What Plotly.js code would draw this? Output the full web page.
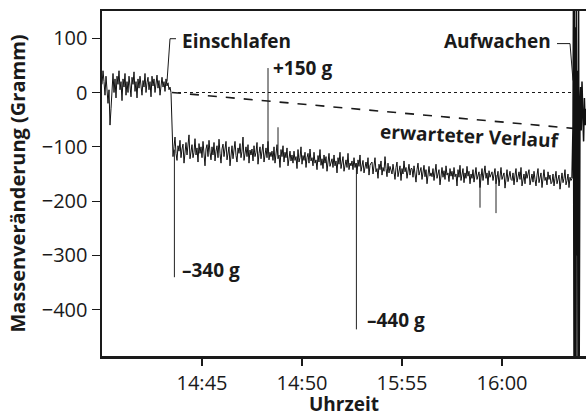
<!DOCTYPE html>
<html>
<head>
<meta charset="utf-8">
<script src="https://cdn.plot.ly/plotly-3.0.1.min.js"></script>
<style>html,body{margin:0;padding:0;background:#fff;}#chart{width:586px;height:417px;}</style>
</head>
<body>
<div id="chart"></div>
<script>
// Time axis in minutes from start of recording (sampled every 0.05 min)
const sampleStep = 0.05;
const tickPositions = [5, 10, 15, 20];
const tickLabels = ['14:45', '14:50', '15:55', '16:00'];
const yTicks = [100, 0, -100, -200, -300, -400];
const yTickLabels = ['100', '0', '\u2212100', '\u2212200', '\u2212300', '\u2212400'];

// Awake phase (x = 0 … 3.45)
const awakeValues = [
  15, 40, 20, -5, 30, 10, -20, 5, -60, -30, 10, 35, 0, 25, -10, 30, 15, 40, 5, 20,
  -15, 25, 10, 35, -5, 20, 0, 30, 12, -8, 28, 15, 38, 2, 20, -10, 25, 8, 30, 15,
  -5, 22, 10, 35, 0, 18, 28, 5, 20, -8, 30, 12, 25, 0, 18, 32, 8, 22, -5, 15,
  28, 10, 20, 2, 25, 12, 18, 5, 10, 0];
// Sleep phase (x = 3.5 … 23.5)
const sleepValues = [
  -90, -118, -100, -82, -112, -125, -98, -108, -88, -120, -104, -95, -130, -110, -92, -115, -100, -78, -122, -106,
  -96, -120, -110, -85, -115, -102, -128, -94, -112, -100, -120, -90, -108, -135, -104, -96, -118, -88, -110, -124,
  -100, -115, -92, -126, -108, -98, -120, -86, -112, -130, -104, -95, -118, -106, -90, -124, -112, -100, -135, -108,
  -98, -122, -105, -90, -116, -128, -102, -112, -94, -120, -108, -82, -125, -110, -100, -118, -96, -130, -106, -115,
  -104, -126, -98, -118, -110, -92, -132, -112, -100, -122, -108, -95, -128, -115, -102, -120, -90, -124, -110, -118,
  -108, -125, -100, -130, -112, -96, -122, -115, -138, -105, -118, -98, -128, -110, -120, -102, -135, -115, -108, -126,
  -115, -130, -108, -125, -118, -140, -105, -128, -120, -100, -132, -116, -125, -110, -138, -120, -112, -130, -104, -126,
  -120, -135, -110, -130, -124, -142, -116, -128, -105, -134, -122, -140, -115, -130, -118, -145, -125, -112, -136, -128,
  -122, -138, -115, -135, -126, -148, -120, -132, -110, -140, -128, -118, -145, -130, -124, -138, -112, -142, -130, -135,
  -126, -142, -120, -138, -130, -150, -124, -136, -115, -145, -132, -125, -148, -135, -128, -140, -120, -152, -134, -130,
  -128, -150, -135, -120, -146, -140, -158, -132, -142, -126, -152, -138, -145, -118, -140, -155, -130, -148, -136, -142,
  -150, -132, -145, -160, -138, -128, -155, -142, -135, -162, -140, -150, -126, -146, -138, -158, -144, -132, -152, -140,
  -140, -156, -135, -150, -165, -142, -130, -152, -146, -138, -160, -148, -134, -155, -142, -168, -145, -136, -154, -148,
  -155, -140, -162, -146, -132, -158, -150, -142, -170, -148, -138, -156, -144, -160, -135, -152, -148, -164, -140, -154,
  -145, -160, -138, -155, -150, -172, -142, -156, -134, -162, -152, -140, -166, -148, -158, -136, -154, -145, -168, -150,
  -158, -142, -165, -150, -138, -160, -154, -146, -175, -150, -140, -162, -152, -135, -158, -148, -170, -144, -156, -150,
  -146, -162, -150, -140, -168, -155, -145, -172, -152, -138, -160, -154, -148, -176, -150, -142, -164, -156, -145, -160,
  -162, -148, -170, -152, -140, -165, -156, -146, -160, -138, -172, -155, -150, -168, -145, -158, -152, -142, -170, -156,
  -150, -165, -145, -160, -172, -152, -140, -166, -158, -148, -175, -155, -142, -162, -156, -170, -146, -160, -152, -168,
  -165, -150, -172, -158, -145, -168, -160, -152, -178, -155, -148, -166, -158, -142, -170, -162, -150, -175, -156, -162,
  -158];

// Single events (spikes)
const eventTime = [3.62, 8.3, 8.8, 12.72, 18.9, 19.7];
const eventBase = [-105, -112, -115, -130, -150, -152];
const eventPeak = [-340, 45, -64, -436, -212, -222];

// Waking up: strong movement at the end
const wakeTime = [23.5, 23.55, 23.57, 23.6, 23.62, 23.65, 23.67, 23.7, 23.72, 23.75, 23.77, 23.8,
  23.83, 23.86, 23.9, 23.93, 23.96, 24.0, 24.04, 24.08, 24.12, 24.16, 24.2];
const wakeValues = [-158, -60, 160, -500, 160, -500, 120, -500, 160, -300, 40, -500,
  160, -500, -20, 10, -70, 20, -40, -90, -10, -60, -30];

// Reference lines
const zeroTime = [3.5, 24.3];
const zeroMass = [0, 0];
const expectedTime = [3.5, 23.55];
const expectedMass = [0, -66];

// Annotation leader lines
const sleepLeaderTime = [3.7, 3.4, 3.25];
const sleepLeaderMass = [99, 99, 20];
const wakeLeaderTime = [22.75, 23.4, 23.55];
const wakeLeaderMass = [90, 90, 22];

const allValues = awakeValues.concat(sleepValues);

const evX = [], evY = [];
for (let i = 0; i < eventTime.length; i++) {
  evX.push(eventTime[i], eventTime[i], null);
  evY.push(eventBase[i], eventPeak[i], null);
}

const ink = '#1a1a1a';
const font = 'Open Sans, Noto Sans, sans-serif';

const traces = [
  {x: zeroTime, y: zeroMass, mode: 'lines', line: {color: ink, width: 1.2, dash: 'dot'}, hoverinfo: 'skip'},
  {x: expectedTime, y: expectedMass, mode: 'lines', line: {color: ink, width: 1.6, dash: 'dash'}, hoverinfo: 'skip'},
  {y: allValues, x0: 0, dx: sampleStep, mode: 'lines', line: {color: '#111', width: 1}},
  {x: evX, y: evY, mode: 'lines', line: {color: '#222', width: 1}, connectgaps: false},
  {x: wakeTime, y: wakeValues, mode: 'lines', line: {color: '#111', width: 1.5}},
  {x: sleepLeaderTime, y: sleepLeaderMass, mode: 'lines', line: {color: ink, width: 1}},
  {x: wakeLeaderTime, y: wakeLeaderMass, mode: 'lines', line: {color: ink, width: 1}}
];

const bold = {family: font, size: 19, color: ink};
const annotations = [
  {x: 3.9, y: 95, text: '<b>Einschlafen</b>', xanchor: 'left', yanchor: 'middle'},
  {x: 8.45, y: 46, text: '<b>+150 g</b>', xanchor: 'left', yanchor: 'middle'},
  {x: 3.9, y: -326, text: '<b>\u2013340 g</b>', xanchor: 'left', yanchor: 'middle'},
  {x: 13.15, y: -418, text: '<b>\u2013440 g</b>', xanchor: 'left', yanchor: 'middle'},
  {x: 18.4, y: -80, text: '<b>erwarteter Verlauf</b>', xanchor: 'center', yanchor: 'middle', textangle: 3},
  {x: 22.55, y: 95, text: '<b>Aufwachen</b>', xanchor: 'right', yanchor: 'middle'}
].map(a => Object.assign({xref: 'x', yref: 'y', showarrow: false, font: bold}, a));

const layout = {
  width: 586, height: 417,
  margin: {l: 102, r: 0, t: 11, b: 61},
  paper_bgcolor: '#fff', plot_bgcolor: '#fff',
  showlegend: false,
  font: {family: font, size: 19, color: ink},
  xaxis: {
    range: [0, 24.2], tickvals: tickPositions, ticktext: tickLabels,
    showgrid: false, zeroline: false, showline: true, linecolor: ink, linewidth: 2.5, mirror: true,
    ticks: 'outside', ticklen: 7, tickwidth: 1.2, tickcolor: ink,
    tickfont: {family: font, size: 20, color: ink},
    title: {text: '<b>Uhrzeit</b>', font: {family: font, size: 19, color: ink}, standoff: 5}
  },
  yaxis: {
    range: [-485, 150], tickvals: yTicks, ticktext: yTickLabels,
    showgrid: false, zeroline: false, showline: true, linecolor: ink, linewidth: 2.5,
    ticks: 'outside', ticklen: 8, tickwidth: 1.2, tickcolor: ink,
    tickfont: {family: font, size: 20, color: ink},
    title: {text: '<b>Massenveränderung (Gramm)</b>', font: {family: font, size: 20, color: ink}, standoff: 11}
  },
  annotations: annotations
};

Plotly.newPlot('chart', traces, layout, {displayModeBar: false, staticPlot: true});
</script>
</body>
</html>
